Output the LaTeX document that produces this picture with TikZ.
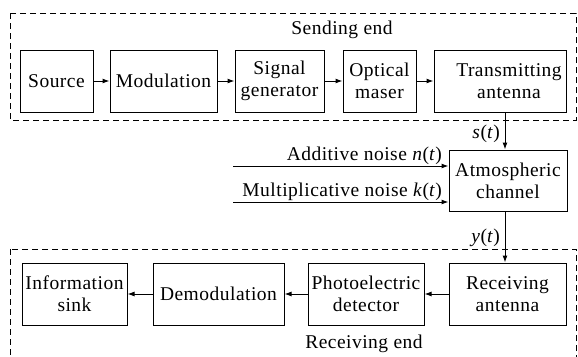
\documentclass[tikz,border=0pt]{standalone}
\usepackage{fontspec}
\setmainfont[LetterSpace=2.5]{Liberation Serif}
\usetikzlibrary{arrows.meta}
\begin{document}
\begin{tikzpicture}[x=1pt,y=-1pt,
  every node/.style={font=\rmfamily\fontsize{19.5}{22}\selectfont},
  box/.style={draw, line width=1pt, align=center, inner sep=0pt, minimum height=62pt},
  arr/.style={line width=1pt, -{Latex[length=7pt,width=5pt]}},
  grp/.style={dashed, dash pattern=on 6pt off 4pt, line width=1pt},
  lbl/.style={inner sep=0pt, anchor=base east}]
\useasboundingbox (0,0) rectangle (578,356);
% group frames
\draw[grp] (10,13) rectangle (576,120);
\draw[grp] (10,249) rectangle (576,362);
\node[inner sep=0pt, anchor=base] (send) at (342,34) {Sending end};
\node[inner sep=0pt, anchor=base] (recv) at (364,348) {Receiving end};
% top row
\node[box, minimum width=73pt] (src) at (56.5,81) {Source};
\node[box, minimum width=107pt] (mod) at (163.5,81) {Modulation};
\node[box, minimum width=89pt] (sig) at (279.5,81) {Signal\\generator};
\node[box, minimum width=73pt] (opt) at (379.5,81) {Optical\\maser};
\node[box, minimum width=132pt] (tx) at (500,81) {\hspace*{18pt}Transmitting\\\hspace*{18pt}antenna};
% channel
\node[box, minimum width=118pt, minimum height=61pt] (atm) at (508,180.5) {Atmospheric\\channel};
% bottom row
\node[box, minimum width=117pt] (rx) at (507.5,294) {Receiving\\antenna};
\node[box, minimum width=116pt] (pd) at (366,294) {Photoelectric\\detector};
\node[box, minimum width=131pt] (dem) at (218.5,294) {Demodulation};
\node[box, minimum width=105pt] (snk) at (74.5,294) {Information\\sink};
% connectors
\draw[arr] (src) -- (mod);
\draw[arr] (mod) -- (sig);
\draw[arr] (sig) -- (opt);
\draw[arr] (opt) -- (tx);
\coordinate (vx) at (505,0);
\draw[arr] (tx.south -| vx) -- (atm.north -| vx);
\draw[arr] (atm.south -| vx) -- (rx.north -| vx);
\draw[arr] (rx) -- (pd);
\draw[arr] (pd) -- (dem);
\draw[arr] (dem) -- (snk);
\coordinate (n1) at (233,166);
\coordinate (n2) at (233,202);
\draw[arr] (n1) -- (n1 -| atm.west);
\draw[arr] (n2) -- (n2 -| atm.west);
\node[lbl] (ln1) at (442,160) {Additive noise \textit{n}(\textit{t})};
\node[lbl] (ln2) at (442,196) {Multiplicative noise \textit{k}(\textit{t})};
\node[lbl] (ls) at (500,138) {\textit{s}(\textit{t})};
\node[lbl] (ly) at (500,242) {\textit{y}(\textit{t})};
\end{tikzpicture}
\end{document}
